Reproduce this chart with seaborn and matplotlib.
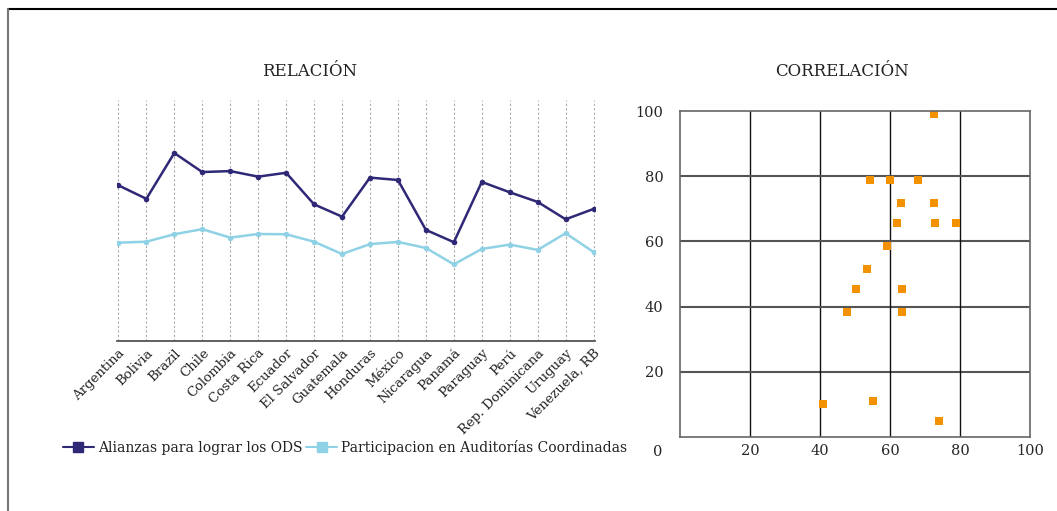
import pandas as pd
import numpy as np
import matplotlib.pyplot as plt
import seaborn as sns
from matplotlib.lines import Line2D

countries = ['Argentina', 'Bolivia', 'Brazil', 'Chile', 'Colombia', 'Costa Rica',
             'Ecuador', 'El Salvador', 'Guatemala', 'Honduras', 'México', 'Nicaragua',
             'Panamá', 'Paraguay', 'Perú', 'Rep. Dominicana', 'Uruguay', 'Venezuela, RB']
alianzas = [64.6, 59.0, 78.0, 70.1, 70.5, 68.2, 69.8, 56.7, 51.6, 67.8, 66.8, 46.1,
            41.0, 66.0, 61.7, 57.7, 50.5, 54.8]
participacion = [40.8, 41.2, 44.3, 46.4, 42.9, 44.4, 44.3, 41.2, 36.1, 40.2, 41.1, 38.6,
                 31.8, 38.2, 40.0, 37.8, 44.7, 36.9]

corr_x = [72.6, 54.3, 60.0, 68.0, 63.1, 72.6, 61.9, 72.9, 78.9, 59.0, 53.3, 50.2,
          63.4, 47.6, 63.4, 40.8, 55.1, 74.0]
corr_y = [99.0, 78.8, 78.8, 78.8, 71.8, 71.8, 65.6, 65.6, 65.6, 58.6, 51.5, 45.4,
          45.4, 38.3, 38.3, 10.1, 11.0, 5.0]

dark = '#2f2876'
light = '#8fd2e6'
orange = '#f39200'

sns.set_style('white')
plt.rcParams['font.family'] = ['DejaVu Serif']
plt.rcParams['text.color'] = '#222222'

fig = plt.figure(figsize=(10.57, 5.11), dpi=100)
W, H = 1057, 511

# line chart
ax1 = fig.add_axes([117 / W, (H - 341) / H, (595 - 117) / W, (341 - 100) / H])
df = pd.DataFrame({'pos': np.arange(len(countries)),
                   'Alianzas para lograr los ODS': alianzas,
                   'Participacion en Auditorías Coordinadas': participacion})
sns.lineplot(data=df, x='pos', y='Alianzas para lograr los ODS', ax=ax1, color=dark,
             lw=1.8, marker='o', markersize=4, markeredgewidth=0)
sns.lineplot(data=df, x='pos', y='Participacion en Auditorías Coordinadas', ax=ax1,
             color=light, lw=1.8, marker='o', markersize=4, markeredgewidth=0)
ax1.set_xlim(-0.05, len(countries) - 0.95)
ax1.set_ylim(0, 100)
ax1.set_xticks(np.arange(len(countries)))
ax1.set_xticklabels(countries, rotation=45, ha='right', rotation_mode='anchor', fontsize=9.5)
ax1.tick_params(axis='x', length=0, pad=4)
ax1.set_yticks([])
ax1.set_xlabel('')
ax1.set_ylabel('')
ax1.grid(axis='x', color='#aaaaaa', ls=(0, (2, 2)), lw=0.8)
for s in ['top', 'right', 'left']:
    ax1.spines[s].set_visible(False)
ax1.spines['bottom'].set_color('#444444')
ax1.spines['bottom'].set_linewidth(1.2)
fig.text(310 / W, 1 - 71 / H, 'RELACIÓN', ha='center', va='center', fontsize=12)

handles = [Line2D([], [], color=dark, lw=1.5, marker='s', markersize=7),
           Line2D([], [], color=light, lw=1.5, marker='s', markersize=7)]
fig.legend(handles, ['Alianzas para lograr los ODS', 'Participacion en Auditorías Coordinadas'],
           loc='center left', bbox_to_anchor=(56 / W, 1 - 447 / H), ncol=2, frameon=False,
           fontsize=10, handlelength=2.2, handletextpad=0.3, columnspacing=0.3, borderpad=0)

# scatter chart
ax2 = fig.add_axes([680 / W, (H - 437) / H, 350 / W, 326 / H])
sns.scatterplot(x=corr_x, y=corr_y, ax=ax2, color=orange, marker='s', s=40, linewidth=0)
ax2.set_xlim(0, 100)
ax2.set_ylim(0, 100)
ax2.set_xticks([20, 40, 60, 80, 100])
ax2.set_yticks([20, 40, 60, 80, 100])
ax2.tick_params(length=0, labelsize=10.5)
ax2.tick_params(axis='y', pad=12)
ax2.tick_params(axis='x', pad=5)
ax2.set_axisbelow(True)
for v in [20, 40, 60, 80]:
    ax2.axvline(v, color='#111111', lw=1.0, zorder=0)
    ax2.axhline(v, color='#555555', lw=1.5, zorder=0)
for s in ax2.spines.values():
    s.set_color('#666666')
    s.set_linewidth(1.2)
ax2.text(-0.063, -0.046, '0', transform=ax2.transAxes, ha='center', va='center', fontsize=10.5)
fig.text(842 / W, 1 - 71 / H, 'CORRELACIÓN', ha='center', va='center', fontsize=12)

# outer frame lines
fig.add_artist(Line2D([8 / W, 1], [1 - 9 / H, 1 - 9 / H], color='black', lw=1.5))
fig.add_artist(Line2D([8 / W, 8 / W], [0, 1 - 9 / H], color='#777777', lw=1.5))

fig.savefig('out.png', dpi=100)
